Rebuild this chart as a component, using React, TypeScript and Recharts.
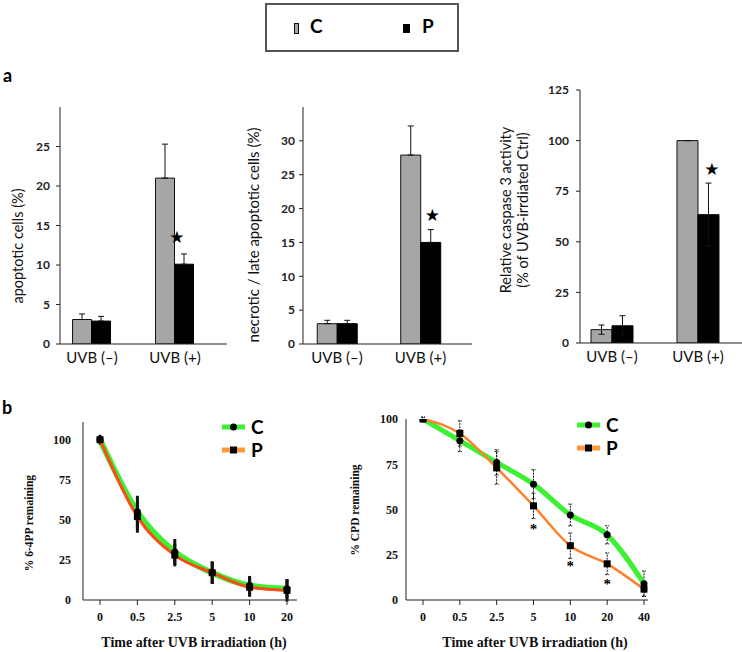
import React from 'react';
import { ComposedChart, Bar, Line, XAxis, YAxis, ErrorBar, ReferenceDot } from 'recharts';

// panel a: bar groups
const groups = ['UVB (–)', 'UVB (+)'];
const groupPos = [0, 1];

const apoC = [3.1, 21];
const apoCErr = [0.7, 4.3];
const apoP = [2.9, 10.1];
const apoPErr = [0.6, 1.3];
const apoStar = 13.6;

const necC = [3.0, 27.9];
const necCErr = [0.5, 4.3];
const necP = [3.0, 15.0];
const necPErr = [0.5, 1.9];
const necStar = 19;

const casC = [6.6, 100];
const casCErr = [2.3, 0];
const casP = [8.5, 63.4];
const casPErr = [5, 15.6];
const casStar = 86;

// panel b: repair time courses
const times64 = ['0', '0.5', '2.5', '5', '10', '20'];
const pp64C = [100, 55, 30, 17, 9, 7];
const pp64CErr = [2, 10, 8, 7, 6, 6];
const pp64P = [100, 52, 28, 17, 8, 6];
const pp64PErr = [3, 10, 7, 7, 6, 7];

const timesCpd = ['0', '0.5', '2.5', '5', '10', '20', '40'];
const cpdC = [100, 88, 76, 64, 47, 36, 9];
const cpdCErr = [1, 6, 7, 8, 6, 5, 7];
const cpdP = [100, 92, 73, 52, 30, 20, 6];
const cpdPErr = [1, 7, 9, 7, 7, 6, 4];
const cpdStarTimes = ['5', '10', '20'];
const cpdStarVals = [41, 20.3, 10.5];

const GREEN = '#3cf032';
const AXIS = '#222';

function BarPanel({ plot, yMax, yTicks, xDomain, midTick, c, cErr, p, pErr, twoSided, star, starDx, barSize, tickMargin }: any) {
  const [px, py, pw, ph] = plot;
  const rows = groupPos.map((x, i) => ({
    x,
    c: c[i],
    p: p[i],
    cErr: [twoSided ? cErr[i] : 0, cErr[i]],
    pErr: [twoSided ? pErr[i] : 0, pErr[i]],
  }));
  const yw = 60;
  const top = 10;
  const xh = 30;
  return (
    <div style={{ position: 'absolute', left: px - yw, top: py - top }}>
      <ComposedChart width={yw + pw} height={top + ph + xh} data={rows} barGap={0}
        margin={{ top, right: 0, bottom: 0, left: 0 }}>
        <XAxis xAxisId="mark" type="number" dataKey="x" domain={xDomain} ticks={[midTick]}
          tick={false} axisLine={false} tickLine={{ stroke: AXIS }} tickSize={5} height={0} allowDataOverflow />
        <XAxis type="number" dataKey="x" domain={xDomain} ticks={groupPos} allowDataOverflow
          tickFormatter={(v: number) => groups[v]} tickLine={false} tickSize={6} tickMargin={2} height={xh}
          axisLine={{ stroke: AXIS }} tick={{ fill: '#111', fontSize: 15, fontFamily: 'Lato' }} />
        <YAxis type="number" domain={[0, yMax]} ticks={yTicks} width={yw} allowDataOverflow
          axisLine={{ stroke: AXIS }} tickLine={{ stroke: AXIS }} tickSize={4} tickMargin={tickMargin}
          tick={{ fill: '#222', fontSize: 12, fontWeight: 700, fontFamily: 'Lato' }} />
        <Bar dataKey="c" fill="#a6a6a6" stroke="#111" strokeWidth={1} barSize={barSize} isAnimationActive={false}>
          <ErrorBar dataKey="cErr" width={3} stroke="#111" strokeWidth={1} direction="y" />
        </Bar>
        <Bar dataKey="p" fill="#000" stroke="#000" strokeWidth={1} barSize={barSize} isAnimationActive={false}>
          <ErrorBar dataKey="pErr" width={3} stroke="#111" strokeWidth={1} direction="y" />
        </Bar>
        <ReferenceDot x={1} y={star}
          shape={(s: any) => (
            <text x={s.cx + starDx} y={s.cy} textAnchor="middle" dominantBaseline="central"
              fontSize={17} fontFamily="DejaVu Sans" fill="#000">★</text>
          )} />
      </ComposedChart>
    </div>
  );
}

function LinePanel({ plot, times, c, cErr, p, pErr, yMax, pad, greenW, orange, orangeW, errW, errCap, errDash, yMargin, stars }: any) {
  const [px, py, pw, ph] = plot;
  const rows = times.map((t: string, i: number) => ({
    t, c: c[i], p: p[i], cErr: cErr[i], pErr: pErr[i],
  }));
  const yw = 60;
  const top = 10;
  const xh = 30;
  return (
    <div style={{ position: 'absolute', left: px - yw, top: py - top }}>
      <ComposedChart width={yw + pw + 2} height={top + ph + xh} data={rows}
        margin={{ top, right: 2, bottom: 0, left: 0 }}>
        <XAxis dataKey="t" type="category" padding={pad} height={xh} axisLine={{ stroke: AXIS }}
          tickLine={{ stroke: AXIS }} tickSize={5} tickMargin={7}
          tick={{ fill: '#111', fontSize: 12, fontWeight: 700, fontFamily: 'Liberation Serif' }} />
        <YAxis type="number" domain={[0, yMax]} ticks={[0, 25, 50, 75, 100]} width={yw} allowDataOverflow
          axisLine={{ stroke: AXIS }} tickLine={false} tickSize={0} tickMargin={yMargin}
          tick={{ fill: '#111', fontSize: 12, fontWeight: 700, fontFamily: 'Liberation Serif' }} />
        <Line type="monotone" dataKey="c" stroke={GREEN} strokeWidth={greenW} isAnimationActive={false}
          dot={(d: any) => <circle key={`c${d.index}`} cx={d.cx} cy={d.cy} r={3.5} fill="#000" />}>
          <ErrorBar dataKey="cErr" width={errCap} stroke="#111" strokeWidth={errW} strokeDasharray={errDash} direction="y" />
        </Line>
        <Line type="monotone" dataKey="p" stroke={orange} strokeWidth={orangeW} isAnimationActive={false}
          dot={(d: any) => <rect key={`p${d.index}`} x={d.cx - 3.5} y={d.cy - 3.5} width={7} height={7} fill="#000" />}>
          <ErrorBar dataKey="pErr" width={errCap} stroke="#111" strokeWidth={errW} strokeDasharray={errDash} direction="y" />
        </Line>
        {stars && stars.times.map((t: string, i: number) => (
          <ReferenceDot key={t} x={t} y={stars.vals[i]}
            shape={(s: any) => (
              <text x={s.cx} y={s.cy + 8} textAnchor="middle" fontSize={15} fontWeight={700}
                fontFamily="Liberation Serif" fill="#000">*</text>
            )} />
        ))}
      </ComposedChart>
    </div>
  );
}

function VLabel({ x, y, children, style }: any) {
  return (
    <div style={{
      position: 'absolute', left: x, top: y, transform: 'translate(-50%, -50%) rotate(-90deg)',
      whiteSpace: 'nowrap', textAlign: 'center', lineHeight: 1.15, ...style,
    }}>{children}</div>
  );
}

function HLabel({ x, y, children, style }: any) {
  return (
    <div style={{
      position: 'absolute', left: x, top: y, transform: 'translate(-50%, -50%)',
      whiteSpace: 'nowrap', ...style,
    }}>{children}</div>
  );
}

function LegendB({ x, y, orange }: any) {
  const rows = [
    { name: 'C', color: GREEN, sq: false },
    { name: 'P', color: orange, sq: true },
  ];
  return (
    <svg style={{ position: 'absolute', left: x, top: y - 12 }} width={60} height={50}>
      {rows.map((r, i) => (
        <g key={r.name} transform={`translate(0, ${12 + i * 23})`}>
          <line x1={0} x2={23} y1={0} y2={0} stroke={r.color} strokeWidth={5} />
          {r.sq
            ? <rect x={8} y={-3.5} width={7} height={7} fill="#000" />
            : <circle cx={11.5} cy={0} r={3.5} fill="#000" />}
          <text x={29} y={7} fontSize={19} fontWeight={700} fontFamily="Lato" fill="#000">{r.name}</text>
        </g>
      ))}
    </svg>
  );
}

const serifLabel = { fontFamily: 'Liberation Serif', fontWeight: 700, color: '#111' };
const sansLabel = { fontFamily: 'Lato', color: '#111' };

export default function App() {
  return (
    <div style={{ position: 'absolute', left: 0, top: 0, width: 742, height: 652, background: '#fff', overflow: 'hidden' }}>
      {/* top legend box */}
      <div style={{ position: 'absolute', left: 265, top: 3, width: 190, height: 45, border: '2px solid #555' }}>
        <div style={{ position: 'absolute', left: 27, top: 18, width: 3, height: 9, background: '#a6a6a6', border: '1px solid #111' }} />
        <div style={{ position: 'absolute', left: 43, top: 9, fontFamily: 'Lato', fontWeight: 700, fontSize: 19 }}>C</div>
        <div style={{ position: 'absolute', left: 136, top: 19, width: 7, height: 9, background: '#000' }} />
        <div style={{ position: 'absolute', left: 155, top: 9, fontFamily: 'Lato', fontWeight: 700, fontSize: 19 }}>P</div>
      </div>

      <div style={{ position: 'absolute', left: 3, top: 64, fontFamily: 'Lato', fontWeight: 700, fontSize: 18 }}>a</div>
      <div style={{ position: 'absolute', left: 2, top: 396, fontFamily: 'Lato', fontWeight: 700, fontSize: 18 }}>b</div>

      <BarPanel plot={[60, 107, 167, 237]} yMax={30} yTicks={[0, 5, 10, 15, 20, 25]}
        xDomain={[-0.386, 1.627]} midTick={0.614} c={apoC} cErr={apoCErr} p={apoP} pErr={apoPErr}
        twoSided={false} star={apoStar} starDx={2} barSize={19} tickMargin={6} />
      <VLabel x={18} y={246} style={{ ...sansLabel, fontSize: 14.5 }}>apoptotic cells (%)</VLabel>

      <BarPanel plot={[303, 107, 169, 237]} yMax={35} yTicks={[0, 5, 10, 15, 20, 25, 30]}
        xDomain={[-0.407, 1.617]} midTick={0.61} c={necC} cErr={necCErr} p={necP} pErr={necPErr}
        twoSided={false} star={necStar} starDx={12} barSize={20} tickMargin={4} />
      <VLabel x={254} y={235} style={{ ...sansLabel, fontSize: 15 }}>necrotic / late apoptotic cells (%)</VLabel>

      <BarPanel plot={[580, 90, 162, 253]} yMax={125} yTicks={[0, 25, 50, 75, 100, 125]}
        xDomain={[-0.372, 1.512]} midTick={0.578} c={casC} cErr={casCErr} p={casP} pErr={casPErr}
        twoSided={true} star={casStar} starDx={14} barSize={21} tickMargin={7} />
      <VLabel x={515} y={210} style={{ ...sansLabel, fontSize: 14.5 }}>
        Relative caspase 3 activity<br />(% of UVB-irrdiated Ctrl)
      </VLabel>

      <LinePanel plot={[83, 422, 214, 178]} times={times64} c={pp64C} cErr={pp64CErr} p={pp64P} pErr={pp64PErr}
        yMax={111} pad={{ left: 17, right: 10 }} greenW={6} orange="#ff4a1a" orangeW={3}
        errW={3} errCap={0} errDash={undefined} yMargin={12} stars={null} />
      <LegendB x={222} y={427} orange="#ff9a3c" />
      <VLabel x={30} y={523} style={{ ...serifLabel, fontSize: 11.5 }}>% 6-4PP remaining</VLabel>
      <HLabel x={194} y={643} style={{ ...serifLabel, fontSize: 14 }}>Time after UVB irradiation (h)</HLabel>

      <LinePanel plot={[406, 419, 242, 181]} times={timesCpd} c={cpdC} cErr={cpdCErr} p={cpdP} pErr={cpdPErr}
        yMax={100} pad={{ left: 17, right: 4 }} greenW={5} orange="#ff7f2a" orangeW={2.5}
        errW={1} errCap={2} errDash="2 1" yMargin={8} stars={{ times: cpdStarTimes, vals: cpdStarVals }} />
      <LegendB x={577} y={425} orange="#ff9a3c" />
      <VLabel x={356} y={510} style={{ ...serifLabel, fontSize: 11.5 }}>% CPD remaining</VLabel>
      <HLabel x={535} y={643} style={{ ...serifLabel, fontSize: 14 }}>Time after UVB irradiation (h)</HLabel>
    </div>
  );
}
